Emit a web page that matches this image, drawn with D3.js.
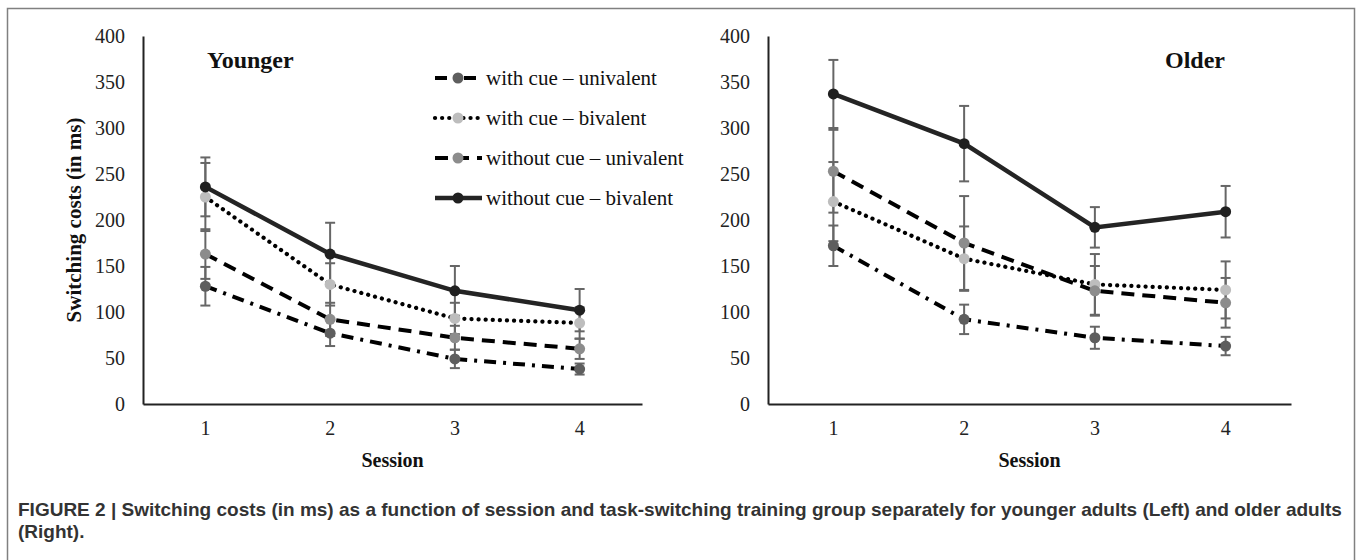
<!DOCTYPE html>
<html>
<head>
<meta charset="utf-8">
<script src="https://cdn.jsdelivr.net/npm/d3@7"></script>
<style>
  body { margin: 0; background: #fff; }
  svg { display: block; }
  .tick text { font-family: "Liberation Serif", "Times New Roman", serif; font-size: 20px; fill: #222; }
</style>
</head>
<body>
<svg width="1357" height="560"></svg>
<script>
// chart data
var sessions = [1, 2, 3, 4];
var yTicks = [0, 50, 100, 150, 200, 250, 300, 350, 400];
var seriesNames = ["with cue \u2013 univalent", "with cue \u2013 bivalent", "without cue \u2013 univalent", "without cue \u2013 bivalent"];

// younger adults, means and standard errors
var youngerWithUni = [128, 77, 49, 38];
var youngerWithBiv = [225, 130, 93, 88];
var youngerWithoutUni = [163, 92, 72, 60];
var youngerWithoutBiv = [236, 163, 123, 102];
var youngerWithUniErr = [21, 14, 10, 6];
var youngerWithBivErr = [37, 23, 17, 17];
var youngerWithoutUniErr = [27, 18, 13, 11];
var youngerWithoutBivErr = [32, 34, 27, 23];

// older adults, means and standard errors
var olderWithUni = [172, 92, 72, 63];
var olderWithBiv = [220, 158, 130, 124];
var olderWithoutUni = [253, 175, 123, 110];
var olderWithoutBiv = [337, 283, 192, 209];
var olderWithUniErr = [22, 16, 12, 10];
var olderWithBivErr = [43, 35, 33, 31];
var olderWithoutUniErr = [45, 51, 27, 27];
var olderWithoutBivErr = [37, 41, 22, 28];

// look of each series (same order as seriesNames)
var styles = [
  { dash: "12,7,3,7", cap: "butt", width: 4, stroke: "#000", fill: "#5e5e5e" },
  { dash: "0.1,7", cap: "round", width: 4.2, stroke: "#000", fill: "#bdbdbd" },
  { dash: "13,8", cap: "butt", width: 4, stroke: "#000", fill: "#8c8c8c" },
  { dash: null, cap: "butt", width: 4.5, stroke: "#242424", fill: "#202020" }
];

var svg = d3.select("svg");
var serif = "'Liberation Serif', 'Times New Roman', serif";

// figure frame
svg.append("rect")
  .attr("x", 7.5).attr("y", 8.5)
  .attr("width", 1347).attr("height", 570)
  .attr("fill", "none")
  .attr("stroke", "#808080")
  .attr("stroke-width", 1.5);

var y = d3.scaleLinear().domain([0, 400]).range([404, 36]);

// builds the per-session rows for one panel
function makeSeries (means, errs) {
  return means.map(function (m, i) {
    return {
      name: seriesNames[i],
      style: styles[i],
      values: sessions.map(function (s, j) { return { session: s, mean: m[j], err: errs[i][j] }; })
    };
  });
}

var younger = makeSeries(
  [youngerWithUni, youngerWithBiv, youngerWithoutUni, youngerWithoutBiv],
  [youngerWithUniErr, youngerWithBivErr, youngerWithoutUniErr, youngerWithoutBivErr]);
var older = makeSeries(
  [olderWithUni, olderWithBiv, olderWithoutUni, olderWithoutBiv],
  [olderWithUniErr, olderWithBivErr, olderWithoutUniErr, olderWithoutBivErr]);

drawPanel(younger, 143, 642, "Younger", 207);
drawPanel(older, 768, 1291, "Older", 1165);

// one line chart with error bars
function drawPanel (series, x0, x1, title, titleX) {
  var x = d3.scaleBand().domain(sessions).range([x0, x1]);
  var cx = function (s) { return x(s) + x.bandwidth() / 2; };
  var g = svg.append("g");

  g.append("g")
    .attr("transform", "translate(" + x0 + ",0)")
    .call(d3.axisLeft(y).tickValues(yTicks).tickSize(0).tickPadding(18))
    .call(function (a) { a.select(".domain").attr("stroke", "#222").attr("stroke-width", 2); });

  g.append("g")
    .attr("transform", "translate(0,404)")
    .call(d3.axisBottom(x).tickSize(0).tickPadding(17))
    .call(function (a) { a.select(".domain").attr("stroke", "#222").attr("stroke-width", 2); });

  g.append("text")
    .attr("x", (x0 + x1) / 2).attr("y", 467)
    .attr("text-anchor", "middle")
    .style("font-family", serif).style("font-size", "20px").style("font-weight", "bold")
    .attr("fill", "#111")
    .text("Session");

  g.append("text")
    .attr("x", titleX).attr("y", 68)
    .style("font-family", serif).style("font-size", "24px").style("font-weight", "bold")
    .attr("fill", "#111")
    .text(title);

  var line = d3.line()
    .x(function (d) { return cx(d.session); })
    .y(function (d) { return y(d.mean); });

  g.selectAll(".series-line")
    .data(series)
    .enter().append("path")
    .attr("class", "series-line")
    .attr("d", function (d) { return line(d.values); })
    .attr("fill", "none")
    .attr("stroke", function (d) { return d.style.stroke; })
    .attr("stroke-width", function (d) { return d.style.width; })
    .attr("stroke-dasharray", function (d) { return d.style.dash; })
    .attr("stroke-linecap", function (d) { return d.style.cap; });

  // error bars: flatten every point
  var points = [];
  series.forEach(function (s) {
    s.values.forEach(function (v) { points.push({ s: s, v: v }); });
  });

  var bars = g.append("g")
    .attr("stroke", "#666")
    .attr("stroke-width", 2);

  bars.selectAll(".stem")
    .data(points)
    .enter().append("line")
    .attr("x1", function (d) { return cx(d.v.session); })
    .attr("x2", function (d) { return cx(d.v.session); })
    .attr("y1", function (d) { return y(d.v.mean + d.v.err); })
    .attr("y2", function (d) { return y(d.v.mean - d.v.err); });

  [1, -1].forEach(function (sign) {
    bars.selectAll(".cap" + sign)
      .data(points)
      .enter().append("line")
      .attr("x1", function (d) { return cx(d.v.session) - 5; })
      .attr("x2", function (d) { return cx(d.v.session) + 5; })
      .attr("y1", function (d) { return y(d.v.mean + sign * d.v.err); })
      .attr("y2", function (d) { return y(d.v.mean + sign * d.v.err); });
  });

  g.selectAll(".marker")
    .data(points)
    .enter().append("circle")
    .attr("cx", function (d) { return cx(d.v.session); })
    .attr("cy", function (d) { return y(d.v.mean); })
    .attr("r", 5.5)
    .attr("fill", function (d) { return d.s.style.fill; });
}

// y axis title (left panel only)
svg.append("text")
  .attr("transform", "translate(81,220) rotate(-90)")
  .attr("text-anchor", "middle")
  .style("font-family", serif).style("font-size", "21px").style("font-weight", "bold")
  .attr("fill", "#111")
  .text("Switching costs (in ms)");

// legend
var legend = svg.append("g")
  .selectAll("g")
  .data(younger)
  .enter().append("g")
  .attr("transform", function (d, i) { return "translate(435," + (78 + i * 40) + ")"; });

legend.append("line")
  .attr("x1", 0).attr("x2", 47)
  .attr("stroke", function (d) { return d.style.stroke; })
  .attr("stroke-width", function (d) { return d.style.width; })
  .attr("stroke-dasharray", function (d) { return d.style.dash; })
  .attr("stroke-linecap", function (d) { return d.style.cap; });

legend.append("circle")
  .attr("cx", 23).attr("r", 5.5)
  .attr("fill", function (d) { return d.style.fill; });

legend.append("text")
  .attr("x", 51).attr("y", 7)
  .style("font-family", serif).style("font-size", "21px")
  .attr("fill", "#111")
  .text(function (d) { return d.name; });

// caption
var caption = svg.append("text")
  .style("font-family", "'Liberation Sans', Arial, sans-serif")
  .style("font-size", "19px").style("font-weight", "bold")
  .attr("fill", "#333");
caption.append("tspan").attr("x", 18).attr("y", 516)
  .text("FIGURE 2 | Switching costs (in ms) as a function of session and task-switching training group separately for younger adults (Left) and older adults");
caption.append("tspan").attr("x", 18).attr("y", 538)
  .text("(Right).");
</script>
</body>
</html>
